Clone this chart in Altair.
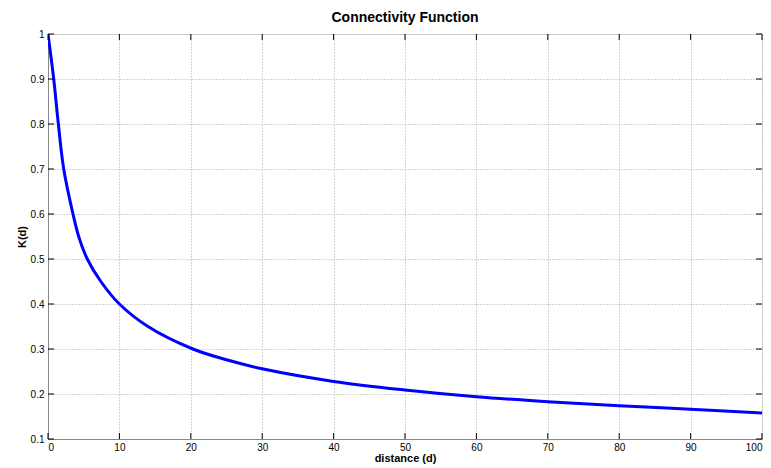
import altair as alt
import pandas as pd

# Connectivity function K(d) sampled along distance d
distance = [0, 0.8, 1.45, 2.2, 3.5, 4.3, 5.5, 7.4, 10, 14, 20.3, 25, 30, 40, 50, 60, 70, 80, 90, 100]
k_values = [1.0, 0.9, 0.8, 0.7, 0.6, 0.55, 0.5, 0.45, 0.4, 0.35, 0.3, 0.276, 0.256, 0.228,
            0.209, 0.194, 0.183, 0.174, 0.166, 0.158]

x_ticks = [0, 10, 20, 30, 40, 50, 60, 70, 80, 90, 100]
y_ticks = [0.1, 0.2, 0.3, 0.4, 0.5, 0.6, 0.7, 0.8, 0.9, 1.0]

W, H = 714, 405
FONT = "Liberation Sans"
TICK = 6
GRID = dict(grid=True, gridColor="#a8a8a8", gridDash=[1, 2], gridWidth=1)

curve = pd.DataFrame({"d": distance, "K": k_values})
xt = pd.DataFrame({"t": x_ticks})
yt = pd.DataFrame({"t": y_ticks})

x_scale = alt.Scale(domain=[0, 100], nice=False, zero=False)
y_scale = alt.Scale(domain=[0.1, 1.0], nice=False, zero=False)

line = alt.Chart(curve).mark_line(
    color="#0000ff", strokeWidth=3, interpolate="catmull-rom", clip=True
).encode(
    x=alt.X("d:Q", scale=x_scale, title="distance (d)",
            axis=alt.Axis(values=x_ticks, format="d", ticks=False, labelPadding=3,
                          titlePadding=0, **GRID)),
    y=alt.Y("K:Q", scale=y_scale, title="K(d)",
            axis=alt.Axis(values=y_ticks, format="~g", ticks=False, labelPadding=4,
                          titlePadding=3, **GRID)),
)

# inward-pointing tick marks on all four sides of the box
tick_style = dict(color="black", strokeWidth=1)
x_bottom = alt.Chart(xt).mark_rule(**tick_style).encode(
    x=alt.X("t:Q", scale=x_scale), y=alt.value(H), y2=alt.value(H - TICK))
x_top = alt.Chart(xt).mark_rule(**tick_style).encode(
    x=alt.X("t:Q", scale=x_scale), y=alt.value(0), y2=alt.value(TICK))
y_left = alt.Chart(yt).mark_rule(**tick_style).encode(
    y=alt.Y("t:Q", scale=y_scale), x=alt.value(0), x2=alt.value(TICK))
y_right = alt.Chart(yt).mark_rule(**tick_style).encode(
    y=alt.Y("t:Q", scale=y_scale), x=alt.value(W), x2=alt.value(W - TICK))

chart = alt.layer(line, x_bottom, x_top, y_left, y_right).properties(
    width=W, height=H,
    title=alt.TitleParams("Connectivity Function", fontSize=14, font=FONT,
                          fontWeight="bold", anchor="middle", offset=4, color="black"),
    autosize=alt.AutoSizeParams(type="none"),
    padding={"left": 48, "top": 34, "right": 9, "bottom": 29},
).configure_view(
    stroke="black", strokeWidth=1
).configure_axis(
    domainColor="black", domainWidth=1,
    labelFont=FONT, labelFontSize=12, labelColor="black",
    titleFont=FONT, titleFontSize=12, titleFontWeight="bold", titleColor="black",
).configure(background="white")

chart.save("out.html", embed_options={"renderer": "svg", "actions": False})
